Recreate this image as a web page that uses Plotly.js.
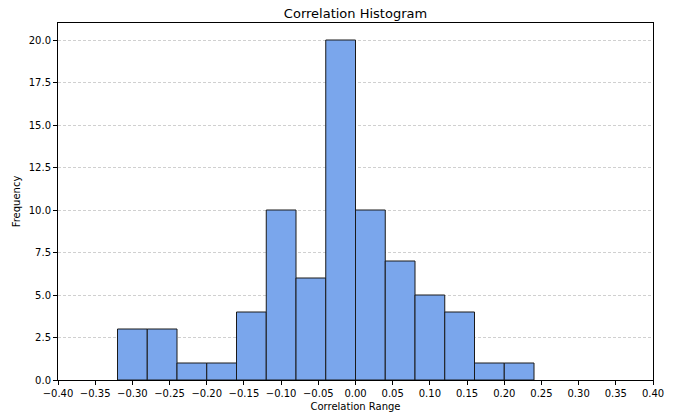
<!DOCTYPE html>
<html>
<head>
<meta charset="utf-8">
<script src="https://cdn.plot.ly/plotly-3.0.1.min.js"></script>
<style>html,body{margin:0;padding:0;background:#fff;}#chart{width:694px;height:415px;}</style>
</head>
<body>
<div id="chart"></div>
<script>
const binEdges = [-0.32, -0.28, -0.24, -0.20, -0.16, -0.12, -0.08, -0.04, 0.00, 0.04, 0.08, 0.12, 0.16, 0.20, 0.24];
const counts = [3, 3, 1, 1, 4, 10, 6, 20, 10, 7, 5, 4, 1, 1];
const xTicks = [-0.40, -0.35, -0.30, -0.25, -0.20, -0.15, -0.10, -0.05, 0.00, 0.05, 0.10, 0.15, 0.20, 0.25, 0.30, 0.35, 0.40];
const yTicks = [0, 2.5, 5, 7.5, 10, 12.5, 15, 17.5, 20];

const centers = counts.map((c, i) => (binEdges[i] + binEdges[i + 1]) / 2);
const widths = counts.map((c, i) => binEdges[i + 1] - binEdges[i]);

const font = {family: 'DejaVu Sans, sans-serif', size: 10, color: '#000'};

Plotly.newPlot('chart', [{
  type: 'bar',
  x: centers,
  y: counts,
  width: widths,
  marker: {color: '#7aa6ec', line: {color: '#1a1a1a', width: 1}},
  hoverinfo: 'x+y'
}], {
  width: 694, height: 415,
  margin: {l: 58, r: 41, t: 23, b: 35},
  paper_bgcolor: '#fff', plot_bgcolor: '#fff',
  font: font,
  showlegend: false,
  title: {text: 'Correlation Histogram', font: {family: 'DejaVu Sans, sans-serif', size: 13, color: '#000'}, x: 0.5, xref: 'paper', xanchor: 'center', y: 1, yref: 'paper', yanchor: 'bottom', pad: {b: 5}},
  xaxis: {
    range: [-0.4, 0.4],
    tickvals: xTicks,
    ticktext: xTicks.map(v => (v < 0 ? '\u2212' : '') + Math.abs(v).toFixed(2)),
    ticks: 'outside', ticklen: 4, tickwidth: 1, tickcolor: '#000',
    showline: true, linecolor: '#000', linewidth: 1, mirror: true,
    showgrid: false, zeroline: false,
    tickfont: font,
    title: {text: 'Correlation Range', font: font, standoff: 4}
  },
  yaxis: {
    range: [0, 21],
    tickvals: yTicks,
    ticktext: yTicks.map(v => v.toFixed(1)),
    ticks: 'outside', ticklen: 4, tickwidth: 1, tickcolor: '#000',
    showline: true, linecolor: '#000', linewidth: 1, mirror: true,
    showgrid: true, gridcolor: '#c4c4c4', griddash: '3px,2px', gridwidth: 0.8,
    zeroline: false,
    tickfont: font,
    title: {text: 'Frequency', font: font, standoff: 6}
  },
  bargap: 0
}, {staticPlot: true});
</script>
</body>
</html>
